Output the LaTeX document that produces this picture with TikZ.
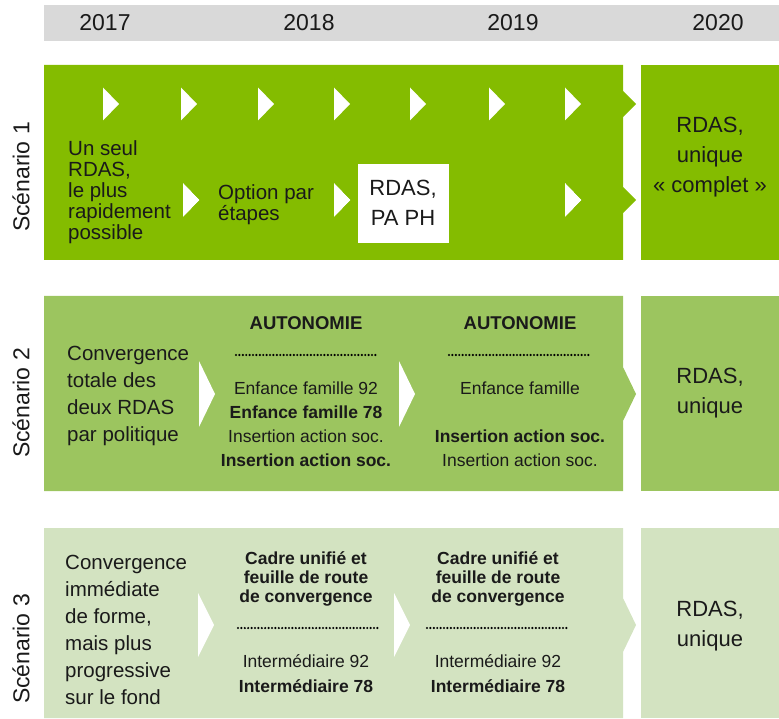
\documentclass[tikz,border=0pt]{standalone}
\usepackage{fontspec}
\setmainfont{Liberation Sans}
\usetikzlibrary{positioning}

\definecolor{hdrgray}{HTML}{D9D9D9}
\definecolor{scOne}{HTML}{84BC00}
\definecolor{scTwo}{HTML}{9CC55F}
\definecolor{scThree}{HTML}{D3E3C1}
\definecolor{ink}{HTML}{1A1A1A}

\newcommand{\fsz}[2]{\fontsize{#1}{#2}\selectfont}
\newcommand{\chev}[3]{\fill[white] (#1,#2-#3/2) -- ++(16,#3/2) -- (#1,#2+#3/2) -- cycle;}

\begin{document}
\begin{tikzpicture}[x=1pt,y=-1pt,text=ink,
        year/.style={font=\fsz{23}{23}},
        scen/.style={rotate=90,font=\fsz{23}{23}},
        lefttxt/.style={anchor=west,align=left,inner sep=0pt,font=\fsz{20.5}{21}},
        wide txt/.style={anchor=west,align=left,inner sep=0pt,font=\fsz{20.5}{27}},
        result/.style={align=center,inner sep=0pt,font=\fsz{22}{30}},
        colhead/.style={align=center,inner sep=0pt,font=\bfseries\fsz{17.5}{19}},
        colitem/.style={align=center,inner sep=0pt,font=\fsz{17.5}{24}},
        dotline/.style={line width=2.4pt,line cap=round,dash pattern=on 0pt off 3.4pt}]

        \useasboundingbox (0,0) rectangle (779,719);

        % header
        \fill[hdrgray] (44,5) rectangle (779,41);
        \node[year] (y2017) at (105,23) {2017};
        \node[year] (y2018) at (309,23) {2018};
        \node[year] (y2019) at (513,23) {2019};
        \node[year] (y2020) at (718,23) {2020};

        % scenario 1
        \fill[scOne] (44,65) -- (623,65) -- (623,91) -- (636,104) -- (623,117)
            -- (623,187) -- (636,200) -- (623,213) -- (623,260) -- (44,260) -- cycle;
        \fill[scOne] (641,65) rectangle (779,260);
        \foreach \x in {103,181,258,334,410,489,565}
            \chev{\x}{104}{33}
        \foreach \x in {183,334,565}
            \chev{\x}{200}{33}
        \fill[white] (358,164) rectangle (449,243);
        \node[scen] (s1) at (21,177) {Scénario 1};
        \node[lefttxt] (s1start) at (68,192) {Un seul\\RDAS,\\le plus\\rapidement\\possible};
        \node[lefttxt] (s1step) at (218,205) {Option par\\étapes};
        \node[result] (s1papb) at (403,203) {RDAS,\\PA PH};
        \node[result] (s1end) at (710,157) {RDAS,\\unique\\«~complet~»};

        % scenario 2
        \fill[scTwo] (44,296) -- (623,296) -- (623,367) -- (636,394) -- (623,421)
            -- (623,491) -- (44,491) -- cycle;
        \fill[scTwo] (641,296) rectangle (779,491);
        \chev{199}{394}{66}
        \chev{399}{394}{66}
        \node[scen] (s2) at (21,403) {Scénario 2};
        \node[wide txt] (s2start) at (67,396) {Convergence\\totale des\\deux RDAS\\par politique};
        \node[colhead,font=\bfseries\fsz{18.5}{19}] (s2h1) at (306,323) {AUTONOMIE};
        \node[colhead,font=\bfseries\fsz{18.5}{19}] (s2h2) at (520,323) {AUTONOMIE};
        \draw[dotline] (236,355) -- (378,355);
        \draw[dotline] (449,355) -- (591,355);
        \node[colitem] (s2c1) at (306,424) {Enfance famille 92\\\textbf{Enfance famille 78}\\Insertion action soc.\\\textbf{Insertion action soc.}};
        \node[colitem] (s2c2) at (520,424) {Enfance famille\\[24pt]\textbf{Insertion action soc.}\\Insertion action soc.};
        \node[result] (s2end) at (710,393) {RDAS,\\unique};

        % scenario 3
        \fill[scThree] (44,528) -- (623,528) -- (623,598) -- (636,625) -- (623,652)
            -- (623,718) -- (44,718) -- cycle;
        \fill[scThree] (641,528) rectangle (779,718);
        \chev{198}{625}{64}
        \chev{394}{625}{64}
        \node[scen] (s3) at (21,649) {Scénario 3};
        \node[wide txt] (s3start) at (65,630) {Convergence\\immédiate\\de forme,\\mais plus\\progressive\\sur le fond};
        \node[colhead] (s3h1) at (306,579) {Cadre unifié et\\feuille de route\\de convergence};
        \node[colhead] (s3h2) at (498,579) {Cadre unifié et\\feuille de route\\de convergence};
        \draw[dotline] (238,628) -- (378,628);
        \draw[dotline] (427,628) -- (568,628);
        \node[colitem,font=\fsz{17.5}{25}] (s3c1) at (306,674) {Intermédiaire 92\\\textbf{Intermédiaire 78}};
        \node[colitem,font=\fsz{17.5}{25}] (s3c2) at (498,674) {Intermédiaire 92\\\textbf{Intermédiaire 78}};
        \node[result] (s3end) at (710,626) {RDAS,\\unique};
    \end{tikzpicture}
\end{document}
